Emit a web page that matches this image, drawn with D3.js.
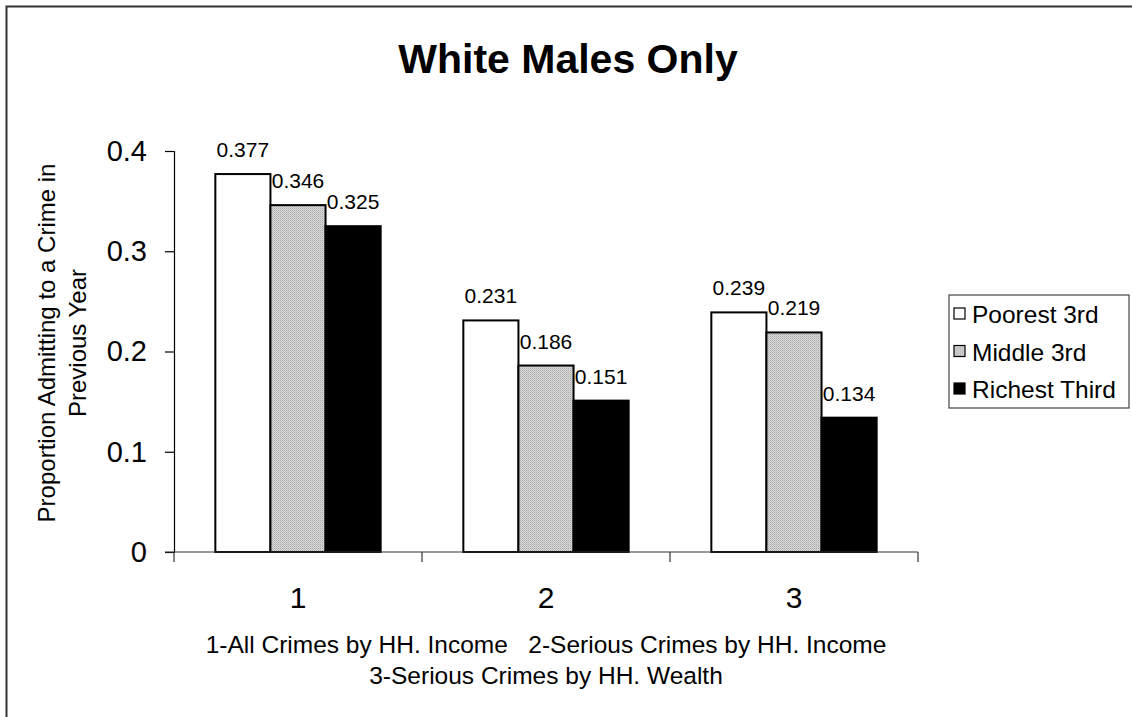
<!DOCTYPE html>
<html>
<head>
<meta charset="utf-8">
<script src="https://cdn.jsdelivr.net/npm/d3@7"></script>
<style>
  html, body { margin: 0; padding: 0; background: #fff; }
  svg { display: block; font-family: Arial, "Liberation Sans", sans-serif; }
</style>
</head>
<body>
<svg id="chart" width="1132" height="717"></svg>
<script>
// Category ticks and series
const categories = ["1", "2", "3"];
const seriesNames = ["Poorest 3rd", "Middle 3rd", "Richest Third"];
const poorest = [0.377, 0.231, 0.239];
const middle = [0.346, 0.186, 0.219];
const richest = [0.325, 0.151, 0.134];
const yTicks = [0, 0.1, 0.2, 0.3, 0.4];
const titleText = "White Males Only";
const yTitleLines = ["Proportion Admitting to a Crime in", "Previous Year"];
const xTitleLines = ["1-All Crimes by HH. Income   2-Serious Crimes by HH. Income",
                     "3-Serious Crimes by HH. Wealth"];

const seriesValues = [poorest, middle, richest];

const svg = d3.select("#chart");

// fills: white, fine grey stipple, black
const defs = svg.append("defs");
const pat = defs.append("pattern")
  .attr("id", "stipple").attr("patternUnits", "userSpaceOnUse")
  .attr("width", 2).attr("height", 2);
pat.append("rect").attr("width", 2).attr("height", 2).attr("fill", "#d8d8d8");
pat.append("rect").attr("width", 1).attr("height", 1).attr("fill", "#ababab");
pat.append("rect").attr("x", 1).attr("y", 1).attr("width", 1).attr("height", 1).attr("fill", "#c2c2c2");
const fills = ["#ffffff", "url(#stipple)", "#000000"];

// outer chart frame
svg.append("rect")
  .attr("x", 6.5).attr("y", 6.5).attr("width", 1140).attr("height", 730)
  .attr("fill", "none").attr("stroke", "#333").attr("stroke-width", 2);

const plot = { left: 174, right: 918, top: 151, bottom: 552 };

const x0 = d3.scaleBand().domain(categories)
  .range([plot.left, plot.right]).paddingInner(0).paddingOuter(0);
// 150% gap between clusters: 3 bars + 1.5 bar widths of gap per category
const x1 = d3.scaleBand().domain(seriesNames)
  .range([0, x0.bandwidth()]).paddingInner(0).paddingOuter(0.75);
const y = d3.scaleLinear().domain([0, 0.4]).range([plot.bottom, plot.top]);

// title
svg.append("text")
  .attr("x", 568).attr("y", 73)
  .attr("text-anchor", "middle")
  .attr("font-size", 41).attr("font-weight", "bold")
  .text(titleText);

// y axis
const yAxis = d3.axisLeft(y).tickValues(yTicks)
  .tickFormat(d => d === 0 ? "0" : d3.format(".1f")(d))
  .tickSize(9).tickPadding(18);
const gy = svg.append("g").attr("transform", `translate(${plot.left},0)`).call(yAxis);
gy.select(".domain").attr("stroke", "#000").attr("stroke-width", 1.2);
gy.selectAll(".tick line").attr("stroke", "#000").attr("stroke-width", 1.2);
gy.selectAll(".tick text").attr("font-size", 29).attr("fill", "#000")
  .attr("font-family", "Arial, 'Liberation Sans', sans-serif");

// bars
const groups = svg.append("g").selectAll("g")
  .data(categories).join("g")
  .attr("transform", d => `translate(${x0(d)},0)`);

groups.selectAll("rect")
  .data((c, ci) => seriesNames.map((s, si) => ({ s, si, v: seriesValues[si][ci] })))
  .join("rect")
  .attr("x", d => x1(d.s))
  .attr("y", d => y(d.v))
  .attr("width", x1.bandwidth())
  .attr("height", d => y(0) - y(d.v))
  .attr("fill", d => fills[d.si])
  .attr("stroke", "#000").attr("stroke-width", 2);

// value labels
groups.selectAll("text.val")
  .data((c, ci) => seriesNames.map((s, si) => ({ s, si, v: seriesValues[si][ci] })))
  .join("text").attr("class", "val")
  .attr("x", d => x1(d.s) + x1.bandwidth() / 2)
  .attr("y", d => y(d.v) - 17)
  .attr("text-anchor", "middle")
  .attr("font-size", 21)
  .text(d => d3.format(".3f")(d.v));

// x axis with category ticks at cluster boundaries
const gx = svg.append("g").attr("transform", `translate(0,${plot.bottom})`);
gx.append("line").attr("x1", plot.left - 9).attr("x2", plot.right)
  .attr("stroke", "#333").attr("stroke-width", 1.2);
const bounds = [plot.left, ...categories.map(c => x0(c) + x0.bandwidth())];
gx.selectAll("line.tk").data(bounds).join("line").attr("class", "tk")
  .attr("x1", d => d).attr("x2", d => d).attr("y1", 0).attr("y2", 10)
  .attr("stroke", "#333").attr("stroke-width", 1.2);
gx.selectAll("text").data(categories).join("text")
  .attr("x", d => x0(d) + x0.bandwidth() / 2)
  .attr("y", 56)
  .attr("text-anchor", "middle")
  .attr("font-size", 30)
  .text(d => d);

// axis titles
const xt = svg.append("text").attr("text-anchor", "middle").attr("font-size", 24.5)
  .attr("x", (plot.left + plot.right) / 2).attr("y", 653).attr("xml:space", "preserve");
xTitleLines.forEach((t, i) => xt.append("tspan")
  .attr("x", (plot.left + plot.right) / 2).attr("dy", i === 0 ? 0 : 31).text(t));

const yt = svg.append("text").attr("text-anchor", "middle").attr("font-size", 24)
  .attr("transform", `translate(55,343) rotate(-90)`);
yTitleLines.forEach((t, i) => yt.append("tspan")
  .attr("x", 0).attr("dy", i === 0 ? 0 : 31).text(t));

// legend
const lg = svg.append("g").attr("transform", "translate(949,295)");
lg.append("rect").attr("width", 180).attr("height", 113)
  .attr("fill", "#fff").attr("stroke", "#444").attr("stroke-width", 1.2);
const items = lg.selectAll("g").data(seriesNames).join("g")
  .attr("transform", (d, i) => `translate(5,${19 + i * 37.5})`);
items.append("rect").attr("x", 0).attr("y", -6).attr("width", 11).attr("height", 11)
  .attr("fill", (d, i) => fills[i]).attr("stroke", "#000").attr("stroke-width", 1.2);
items.append("text").attr("x", 18).attr("y", 9).attr("font-size", 24.5).text(d => d);
</script>
</body>
</html>
